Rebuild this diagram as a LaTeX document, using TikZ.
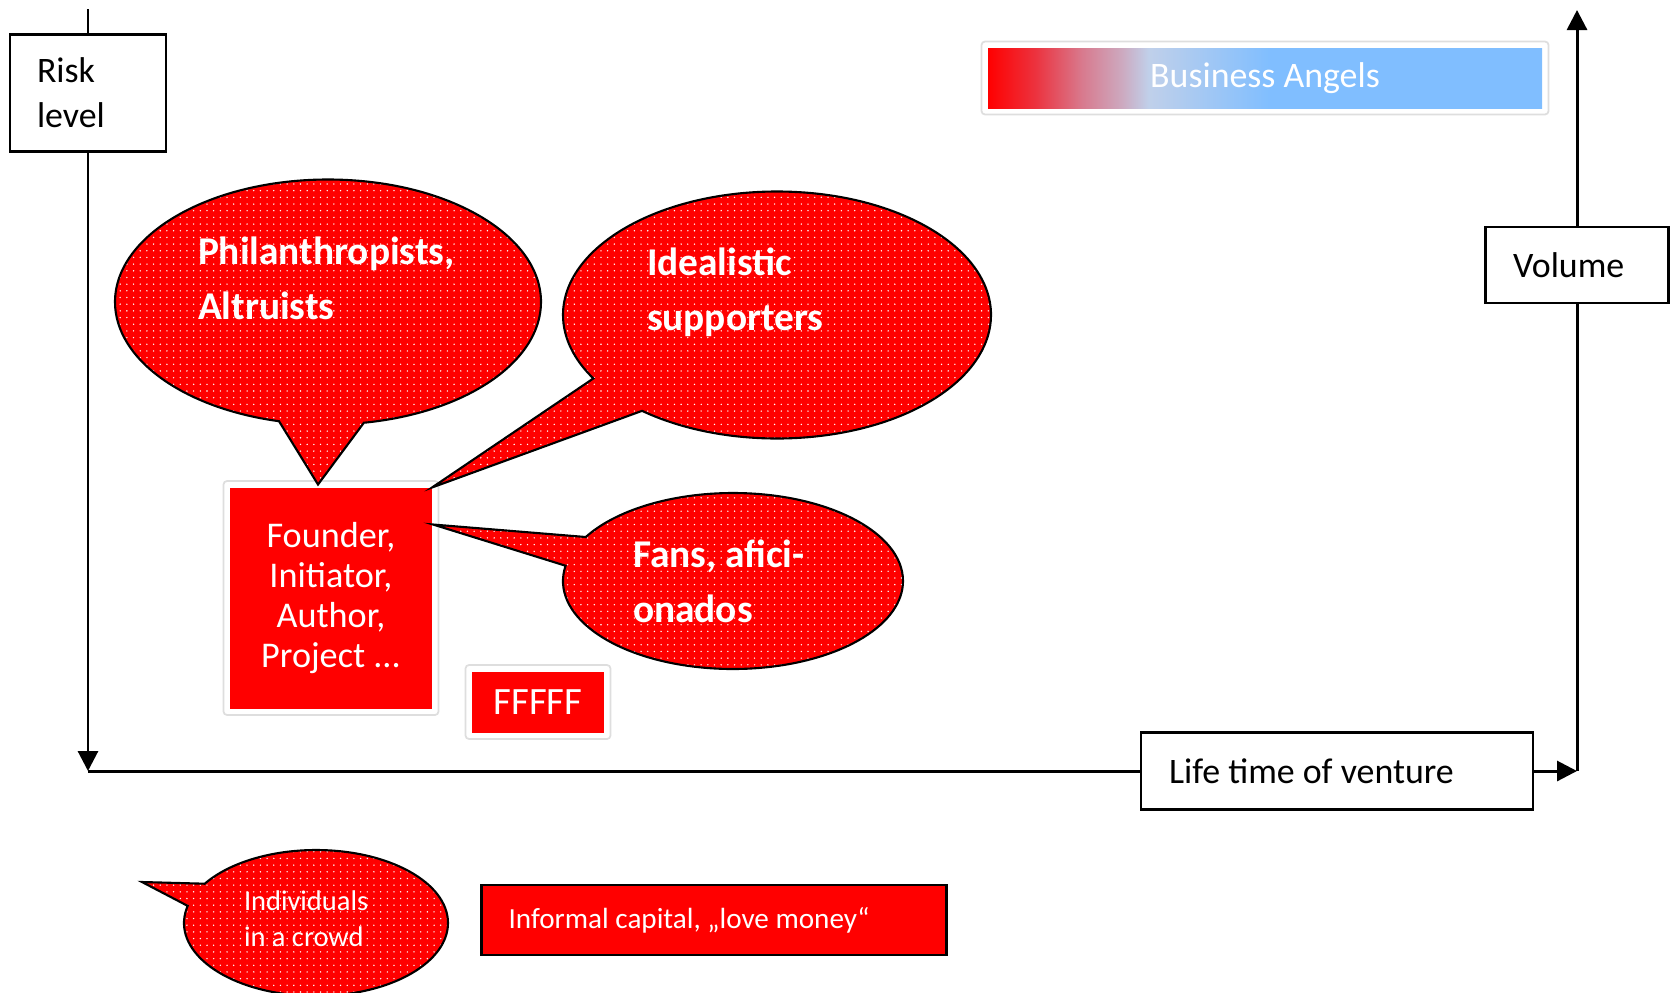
\documentclass[tikz,border=0pt]{standalone}
\usepackage{fontspec}
\setmainfont{Carlito}
\usepackage{tikz}
\usetikzlibrary{arrows.meta,positioning,shapes.callouts,patterns.meta,fit,calc}

\definecolor{angone}{RGB}{236,50,62}
\definecolor{angtwo}{RGB}{216,122,142}
\definecolor{angthree}{RGB}{205,168,190}
\definecolor{angfour}{RGB}{192,208,234}
\definecolor{angblue}{RGB}{128,190,255}
\pgfdeclarehorizontalshading{angels}{100bp}{color(0bp)=(red); color(25bp)=(red); color(29.25bp)=(angone); color(33.5bp)=(angtwo); color(37bp)=(angthree); color(39.5bp)=(angfour); color(50.5bp)=(angblue); color(100bp)=(angblue)}

\begin{document}
\begin{tikzpicture}[
    x=0.1mm, y=-0.1mm,
    lbl/.style={draw, line width=0.6pt, fill=white, align=flush left, font=\fontsize{10.2}{12.8}\selectfont},
    redbox/.style={fill=red, text=white, align=center, outer sep=0pt},
    angbar/.style={shading=angels, text=white, outer sep=0pt, font=\fontsize{10.2}{12.8}\selectfont},
    frame/.style={draw=black!13, line width=0.5pt, rounded corners=1pt, inner sep=0.65mm},
    bubble/.style={ellipse callout, draw, line width=0.6pt, preaction={fill=red}, pattern={Dots[distance=1.9pt,radius=0.22pt]}, pattern color=white, text=white, align=flush left, font=\fontsize{11.2}{15.6}\selectfont\bfseries},
    axis/.style={line width=0.85pt},
    tip/.style={-{Triangle[length=2mm,width=2mm]}}
]
\useasboundingbox (0,0) rectangle (1671,992);

% --- Axes and their labels ---
\node[lbl, minimum width=15.6mm, minimum height=11.7mm, text width=10.2mm] (risk) at (88,93) {Risk\\level};
\node[lbl, minimum width=18.3mm, minimum height=7.6mm, text width=12.8mm] (vol) at (1577,265) {Volume};
\node[lbl, minimum width=39.2mm, minimum height=7.7mm, text width=33.6mm] (life) at (1337,771) {Life time of venture};

\coordinate (rtop) at (88,9);
\coordinate (orig) at (88,771);
\coordinate (rend) at (1577,771);
\coordinate (vtop) at (1577,10);

\draw[axis] (rtop) -- (risk);
\draw[axis, tip] (risk) -- (orig);
\draw[axis] (orig) -- (life);
\draw[axis, tip] (life) -- (rend);
\draw[axis] (rend) -- (vol);
\draw[axis, tip] (vol) -- (vtop);

% --- Boxes ---
\node[angbar, minimum width=55.4mm, minimum height=6mm] (angels) at (1265,78) {Business Angels};
\node[frame, fit=(angels)] (angelsfr) {};

\node[redbox, minimum width=20.2mm, minimum height=22.1mm, font=\fontsize{10.3}{11.3}\selectfont] (found) at (331,598) {Founder,\\Initiator,\\Author,\\Project ...};
\node[frame, fit=(found)] (foundfr) {};

\node[redbox, minimum width=13.2mm, minimum height=6.1mm, font=\fontsize{11}{13}\selectfont] (fff) at (538,702) {FFFFF};
\node[frame, fit=(fff)] (ffffr) {};

% --- Speech bubbles pointing at the founder ---
\node[bubble, minimum width=42.6mm, minimum height=24.5mm, text width=26mm, callout pointer arc=23,
      callout absolute pointer={($(found.north)+(-13,-3)$)}] (phil) at (328,302) {Philanthropists,\\Altruists\par\kern4.8mm};
\node[bubble, minimum width=42.8mm, minimum height=24.7mm, text width=26mm, callout pointer arc=20,
      callout absolute pointer={(found.north east)}] (ideal) at (777,315) {Idealistic\\supporters\par\kern4.5mm};
\node[bubble, minimum width=34mm, minimum height=17.6mm, text width=20mm, callout pointer arc=20,
      callout absolute pointer={($(found.north east)+(1,37)$)}] (fans) at (733,581) {Fans, afici-\\onados};

% --- Legend ---
\coordinate (crowdtip) at (142,882);
\node[bubble, minimum width=26.4mm, minimum height=14.6mm, text width=14.4mm, callout pointer arc=19,
      callout absolute pointer={(crowdtip)}, font=\fontsize{8.1}{10.3}\selectfont] (crowd) at (316,923) {Individuals\\in a crowd\par\kern0.8mm};
\node[redbox, draw=black, line width=0.6pt, minimum width=46.5mm, minimum height=7mm, text width=41.1mm, align=flush left,
      font=\fontsize{8.3}{10}\selectfont] (informal) at (714,920) {Informal capital, „love money“};
\end{tikzpicture}
\end{document}
